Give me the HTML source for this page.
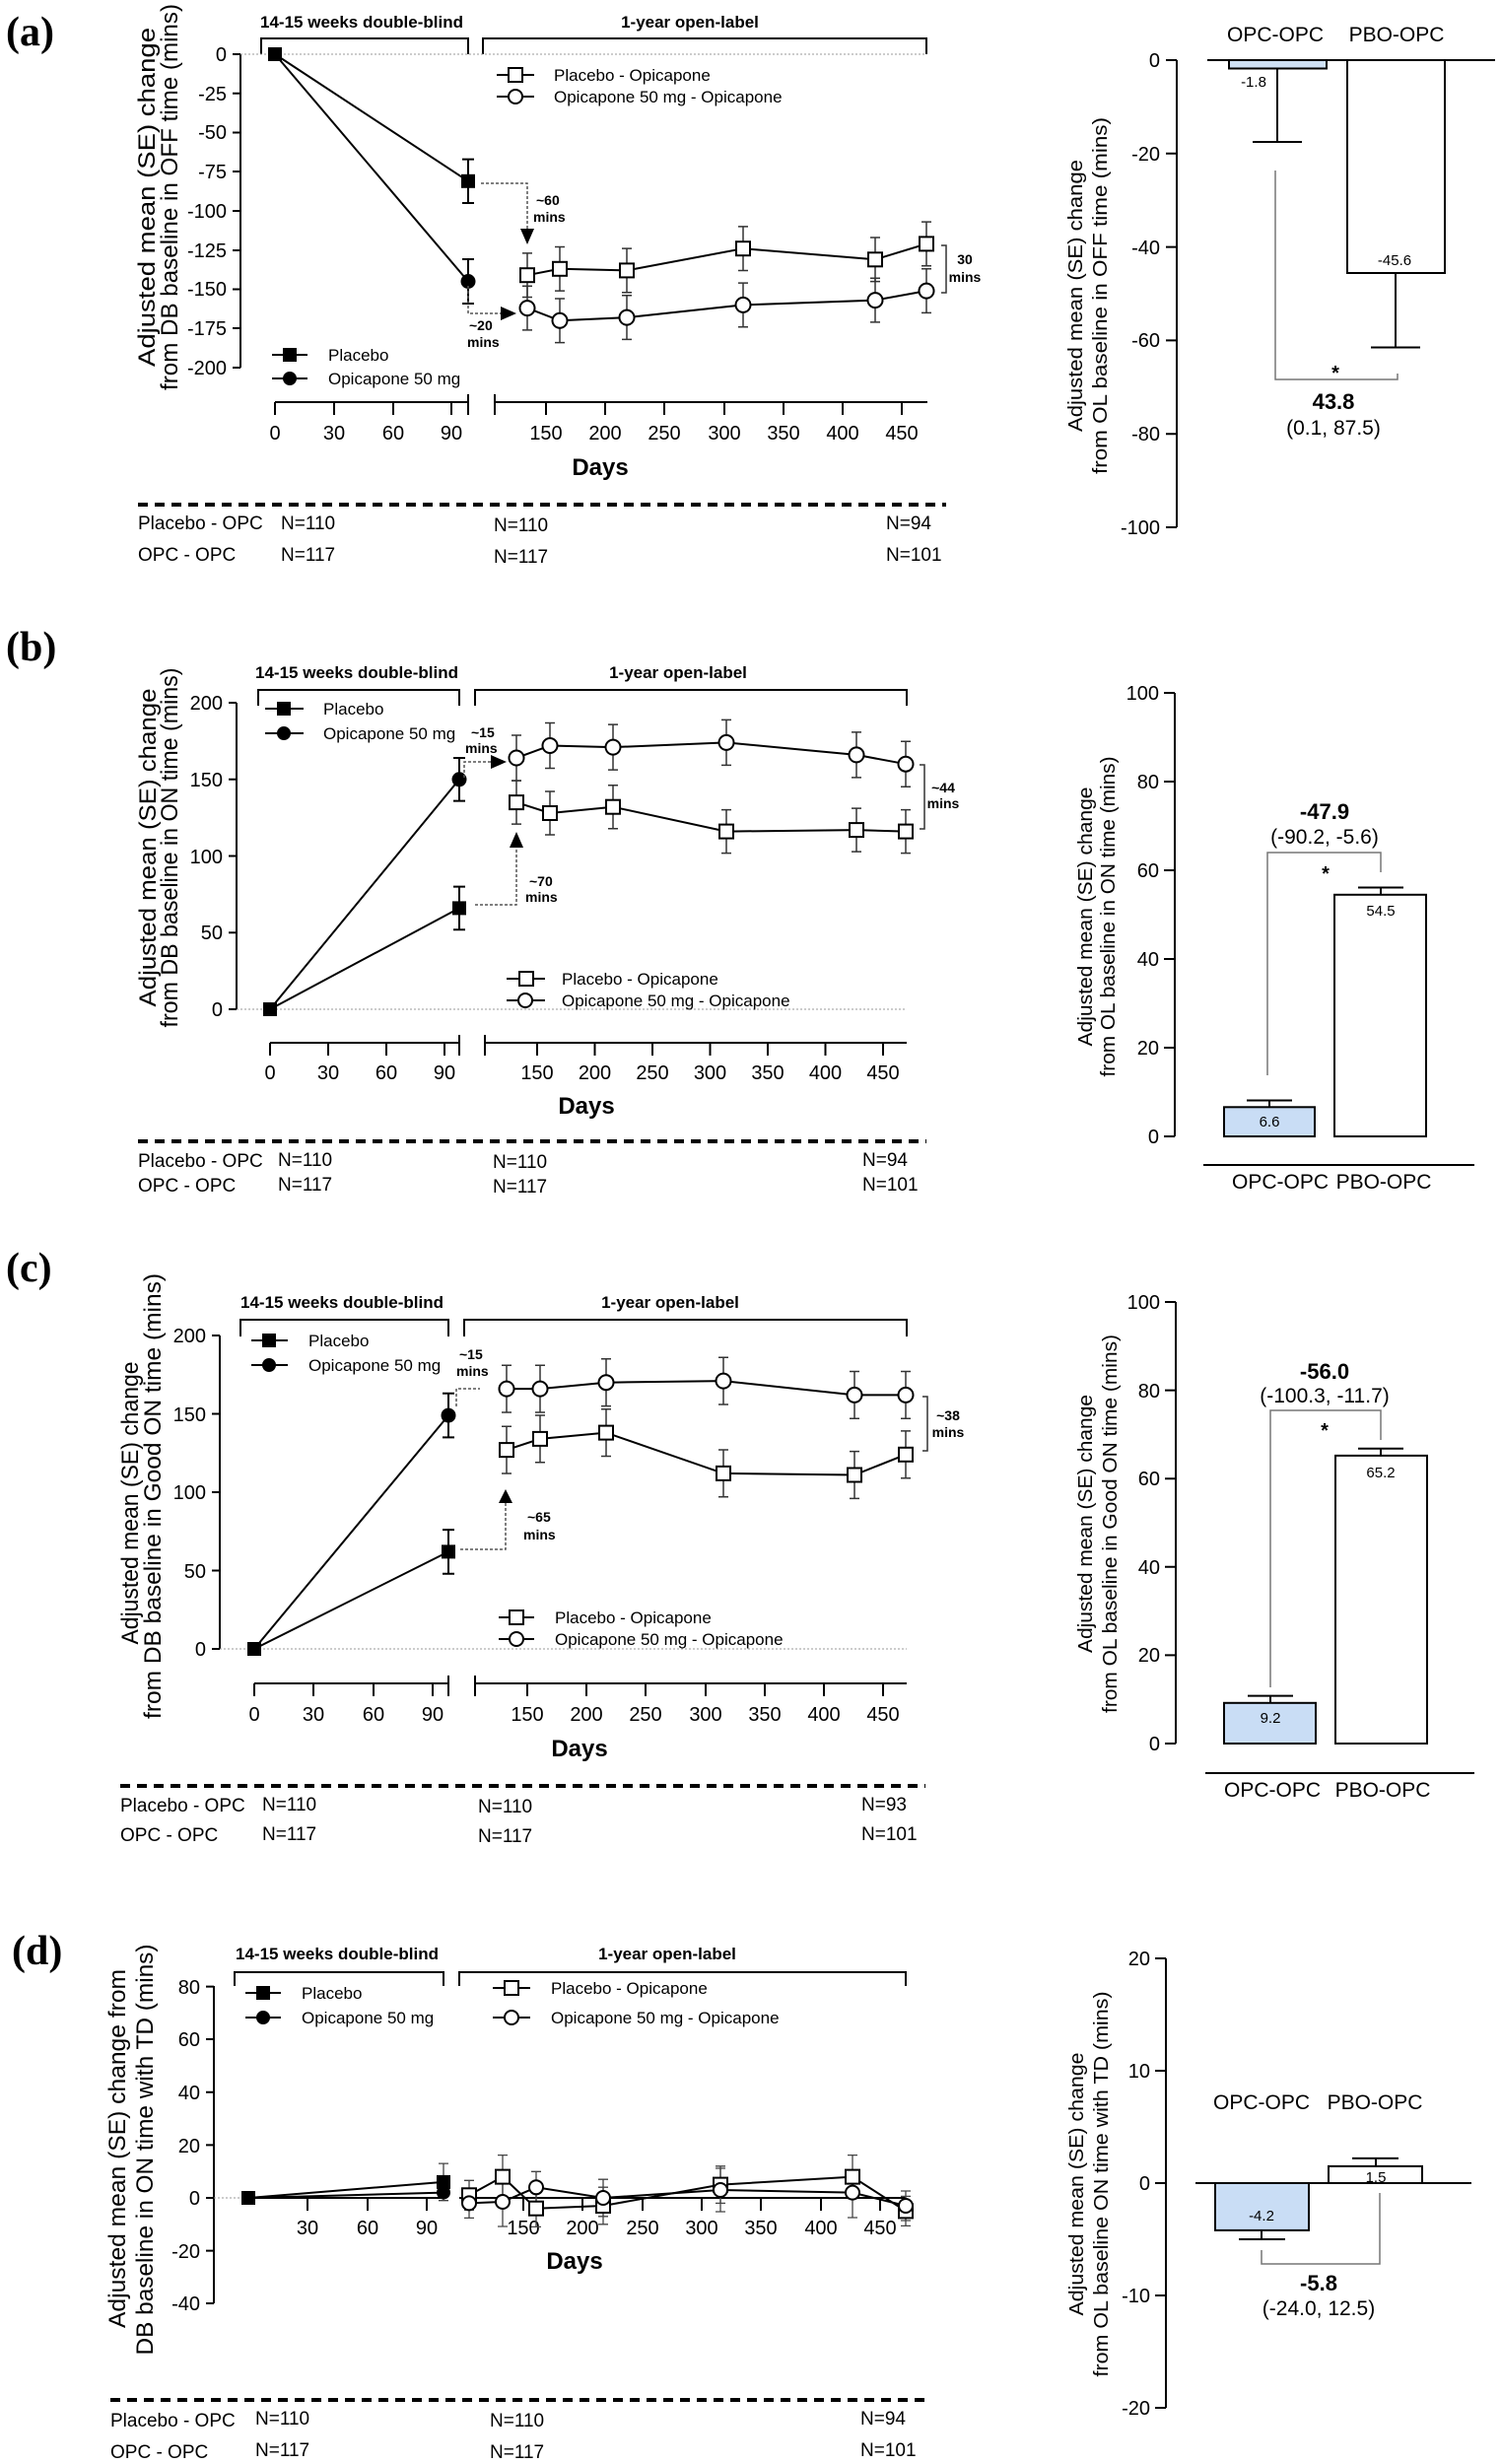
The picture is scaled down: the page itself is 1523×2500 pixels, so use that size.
<!DOCTYPE html>
<html><head><meta charset="utf-8"><style>
html,body{margin:0;padding:0;background:#fff}
svg{display:block}
.n{font-family:"Liberation Sans Narrow","Liberation Sans",sans-serif}
.s{font-family:"Liberation Sans",Arial,sans-serif}
.hb{font-family:"Liberation Sans Narrow","Liberation Sans",sans-serif;font-weight:bold}
.pl{font-family:"Liberation Serif",serif;font-weight:bold;font-size:42px}
</style></head><body>
<svg width="1523" height="2500" viewBox="0 0 1523 2500" xmlns="http://www.w3.org/2000/svg">
<rect width="1523" height="2500" fill="#fff"/>

<!-- ================= PANEL A ================= -->
<text x="6" y="46" class="pl">(a)</text>
<text class="s" font-size="24" transform="translate(157,200) rotate(-90)" text-anchor="middle" textLength="344" lengthAdjust="spacingAndGlyphs">Adjusted mean (SE) change</text>
<text class="s" font-size="24" transform="translate(180,200) rotate(-90)" text-anchor="middle" textLength="392" lengthAdjust="spacingAndGlyphs">from DB baseline in OFF time (mins)</text>
<g stroke="#000" stroke-width="2" fill="none">
<path d="M244,55V373M236,55H244M236,94.8H244M236,134.5H244M236,174H244M236,214H244M236,254H244M236,293.5H244M236,333H244M236,373H244"/>
<path d="M279,408H475M279,408V421M339,408V421M399,408V421M458,408V421M475,400V421"/>
<path d="M502,400V421M502,408H941M554,408V421M614,408V421M674,408V421M735,408V421M795,408V421M855,408V421M915,408V421"/>
<path d="M265,55V39H475V55M490,55V39H940V55"/>
</g>
<line x1="244" y1="55" x2="940" y2="55" stroke="#999" stroke-width="1" stroke-dasharray="2 2"/>
<g class="n" font-size="20" text-anchor="end">
<text x="230" y="62">0</text><text x="230" y="102">-25</text><text x="230" y="141">-50</text><text x="230" y="181">-75</text><text x="230" y="221">-100</text><text x="230" y="261">-125</text><text x="230" y="300">-150</text><text x="230" y="340">-175</text><text x="230" y="380">-200</text>
</g>
<g class="n" font-size="20" text-anchor="middle">
<text x="279" y="446">0</text><text x="339" y="446">30</text><text x="399" y="446">60</text><text x="458" y="446">90</text>
<text x="554" y="446">150</text><text x="614" y="446">200</text><text x="674" y="446">250</text><text x="735" y="446">300</text><text x="795" y="446">350</text><text x="855" y="446">400</text><text x="915" y="446">450</text>
</g>
<text x="609" y="482" class="hb" font-size="24" text-anchor="middle">Days</text>
<text x="367" y="28" class="hb" font-size="17" text-anchor="middle">14-15 weeks double-blind</text>
<text x="700" y="28" class="hb" font-size="17" text-anchor="middle">1-year open-label</text>
<!-- data -->
<g stroke="#000" stroke-width="2" fill="none">
<path d="M279,55L475,183.8M279,55L475,285.5"/>
<path d="M475,161.6V206M469,161.6H481M469,206H481M475,263V308M469,263H481M469,308H481"/>
<path d="M535,279.2L568,272.8L636,274.4L754,252.2L888,263.3L940,247.4"/>
<path d="M535,312.6L568,325.3L636,322.1L754,309.4L888,304.6L940,295.1"/>
</g>
<g stroke="#333" stroke-width="1.5" fill="none">
<path d="M535,256.9V301.5M530,256.9H540M530,301.5H540M568,250.5V295.1M563,250.5H573M563,295.1H573M636,252.1V296.7M631,252.1H641M631,296.7H641M754,229.9V274.5M749,229.9H759M749,274.5H759M888,241V285.6M883,241H893M883,285.6H893M940,225.1V269.7M935,225.1H945M935,269.7H945"/>
<path d="M535,290.3V334.9M530,290.3H540M530,334.9H540M568,303V347.6M563,303H573M563,347.6H573M636,299.8V344.4M631,299.8H641M631,344.4H641M754,287.1V331.7M749,287.1H759M749,331.7H759M888,282.3V326.9M883,282.3H893M883,326.9H893M940,272.8V317.4M935,272.8H945M935,317.4H945"/>
</g>
<g stroke="#000" stroke-width="2">
<rect x="273" y="49" width="12" height="12" fill="#000"/>
<rect x="469" y="177.8" width="12" height="12" fill="#000"/>
<circle cx="475" cy="285.5" r="6.5" fill="#000"/>
<g fill="#fff">
<rect x="528" y="272.2" width="14" height="14"/><rect x="561" y="265.8" width="14" height="14"/><rect x="629" y="267.4" width="14" height="14"/><rect x="747" y="245.2" width="14" height="14"/><rect x="881" y="256.3" width="14" height="14"/><rect x="933" y="240.4" width="14" height="14"/>
<circle cx="535" cy="312.6" r="7.5"/><circle cx="568" cy="325.3" r="7.5"/><circle cx="636" cy="322.1" r="7.5"/><circle cx="754" cy="309.4" r="7.5"/><circle cx="888" cy="304.6" r="7.5"/><circle cx="940" cy="295.1" r="7.5"/>
</g></g>
<!-- legends -->
<g stroke="#000" stroke-width="2">
<line x1="276" y1="360" x2="312" y2="360"/><rect x="288" y="354" width="12" height="12" fill="#000"/>
<line x1="276" y1="384" x2="312" y2="384"/><circle cx="294" cy="384" r="6" fill="#000"/>
<line x1="504" y1="76" x2="542" y2="76"/><rect x="516" y="69" width="14" height="14" fill="#fff"/>
<line x1="504" y1="98" x2="542" y2="98"/><circle cx="523" cy="98" r="7" fill="#fff"/>
</g>
<g class="n" font-size="17">
<text x="333" y="366">Placebo</text><text x="333" y="390">Opicapone 50 mg</text>
<text x="562" y="82">Placebo - Opicapone</text><text x="562" y="104">Opicapone 50 mg - Opicapone</text>
</g>
<!-- annotations -->
<path d="M488,186H535V232" stroke="#555" stroke-width="1.5" fill="none" stroke-dasharray="3 2"/>
<polygon points="528,232 542,232 535,248" fill="#000"/>
<path d="M475,290V318H508" stroke="#555" stroke-width="1.5" fill="none" stroke-dasharray="3 2"/>
<polygon points="508,311 508,325 524,318" fill="#000"/>
<path d="M955,249H960V297H955" stroke="#333" stroke-width="1.5" fill="none"/>
<g class="hb" font-size="14">
<text x="544" y="208">~60</text><text x="541" y="225">mins</text>
<text x="476" y="335">~20</text><text x="474" y="352">mins</text>
<text x="979" y="268" text-anchor="middle">30</text><text x="979" y="286" text-anchor="middle">mins</text>
</g>
<line x1="140" y1="512" x2="960" y2="512" stroke="#000" stroke-width="4" stroke-dasharray="10 7"/>
<g class="n" font-size="19">
<text x="140" y="537">Placebo - OPC</text><text x="140" y="569">OPC - OPC</text>
<text x="285" y="537">N=110</text><text x="285" y="569">N=117</text>
<text x="501" y="539">N=110</text><text x="501" y="571">N=117</text>
<text x="899" y="537">N=94</text><text x="899" y="569">N=101</text>
</g>
<!-- right a -->
<text class="s" font-size="20" transform="translate(1098,300) rotate(-90)" text-anchor="middle" textLength="276" lengthAdjust="spacingAndGlyphs">Adjusted mean (SE) change</text>
<text class="s" font-size="20" transform="translate(1123,300) rotate(-90)" text-anchor="middle" textLength="362" lengthAdjust="spacingAndGlyphs">from OL baseline in OFF time (mins)</text>
<g stroke="#000" stroke-width="2" fill="none">
<path d="M1194,61V535M1183,61H1194M1183,155.8H1194M1183,250.6H1194M1183,345.4H1194M1183,440.2H1194M1183,535H1194"/>
<line x1="1225" y1="61" x2="1517" y2="61"/>
<rect x="1247" y="61" width="99" height="8.5" fill="#cfe1f5"/>
<rect x="1367" y="61" width="99" height="216"/>
<path d="M1296,69.5V144M1271,144H1321M1416,277V352.5M1391,352.5H1441"/>
</g>
<path d="M1294,173V385H1418V379" stroke="#777" stroke-width="1.5" fill="none"/>
<g class="s" font-size="20" text-anchor="end">
<text x="1177" y="68">0</text><text x="1177" y="163">-20</text><text x="1177" y="258">-40</text><text x="1177" y="352">-60</text><text x="1177" y="447">-80</text><text x="1177" y="542">-100</text>
</g>
<g class="s" text-anchor="middle">
<text x="1294" y="42" font-size="21">OPC-OPC</text><text x="1417" y="42" font-size="21">PBO-OPC</text>
<text x="1272" y="88" font-size="15">-1.8</text><text x="1415" y="269" font-size="15">-45.6</text>
<text x="1355" y="385" font-size="20" font-weight="bold">*</text>
<text x="1353" y="415" font-size="22" font-weight="bold">43.8</text>
<text x="1353" y="441" font-size="21">(0.1, 87.5)</text>
</g>

<!-- ================= PANEL B ================= -->
<text x="6" y="670" class="pl">(b)</text>
<text class="s" font-size="24" transform="translate(158,860) rotate(-90)" text-anchor="middle" textLength="323" lengthAdjust="spacingAndGlyphs">Adjusted mean (SE) change</text>
<text class="s" font-size="24" transform="translate(180,860) rotate(-90)" text-anchor="middle" textLength="365" lengthAdjust="spacingAndGlyphs">from DB baseline in ON time (mins)</text>
<g stroke="#000" stroke-width="2" fill="none">
<path d="M240,713V1024M232,713H240M232,790.8H240M232,868.5H240M232,946.3H240M232,1024H240"/>
<path d="M274,1058H466M274,1058V1071M333,1058V1071M392,1058V1071M451,1058V1071M466,1050V1071"/>
<path d="M492,1050V1071M492,1058H920M545,1058V1071M603.5,1058V1071M662,1058V1071M720.5,1058V1071M779,1058V1071M837.5,1058V1071M896,1058V1071"/>
<path d="M262,716V700H466V716M482,716V700H920V716"/>
</g>
<line x1="240" y1="1024" x2="920" y2="1024" stroke="#999" stroke-width="1" stroke-dasharray="2 2"/>
<g class="n" font-size="20" text-anchor="end">
<text x="226" y="720">200</text><text x="226" y="798">150</text><text x="226" y="876">100</text><text x="226" y="953">50</text><text x="226" y="1031">0</text>
</g>
<g class="n" font-size="20" text-anchor="middle">
<text x="274" y="1095">0</text><text x="333" y="1095">30</text><text x="392" y="1095">60</text><text x="451" y="1095">90</text>
<text x="545" y="1095">150</text><text x="603.5" y="1095">200</text><text x="662" y="1095">250</text><text x="720.5" y="1095">300</text><text x="779" y="1095">350</text><text x="837.5" y="1095">400</text><text x="896" y="1095">450</text>
</g>
<text x="595" y="1130" class="hb" font-size="24" text-anchor="middle">Days</text>
<text x="362" y="688" class="hb" font-size="17" text-anchor="middle">14-15 weeks double-blind</text>
<text x="688" y="688" class="hb" font-size="17" text-anchor="middle">1-year open-label</text>
<g stroke="#000" stroke-width="2" fill="none">
<path d="M274,1024L466,921.4M274,1024L466,790.8"/>
<path d="M466,899.6V943.2M460,899.6H472M460,943.2H472M466,769V812.6M460,769H472M460,812.6H472"/>
<path d="M524,814.1L558,825L622,818.7L737,843.6L869,842.1L919,843.6"/>
<path d="M524,769L558,756.5L622,758.1L737,753.4L869,765.9L919,775.2"/>
</g>
<g stroke="#333" stroke-width="1.5" fill="none">
<path d="M524,792.1V836.1M519,792.1H529M519,836.1H529M558,803V847M553,803H563M553,847H563M622,796.7V840.7M617,796.7H627M617,840.7H627M737,821.6V865.6M732,821.6H742M732,865.6H742M869,820.1V864.1M864,820.1H874M864,864.1H874M919,821.6V865.6M914,821.6H924M914,865.6H924"/>
<path d="M524,746V792M519,746H529M519,792H529M558,733.5V779.5M553,733.5H563M553,779.5H563M622,735.1V781.1M617,735.1H627M617,781.1H627M737,730.4V776.4M732,730.4H742M732,776.4H742M869,742.9V788.9M864,742.9H874M864,788.9H874M919,752.2V798.2M914,752.2H924M914,798.2H924"/>
</g>
<g stroke="#000" stroke-width="2">
<rect x="268" y="1018" width="12" height="12" fill="#000"/>
<rect x="460" y="915.4" width="12" height="12" fill="#000"/>
<circle cx="466" cy="790.8" r="6.5" fill="#000"/>
<g fill="#fff">
<rect x="517" y="807.1" width="14" height="14"/><rect x="551" y="818" width="14" height="14"/><rect x="615" y="811.7" width="14" height="14"/><rect x="730" y="836.6" width="14" height="14"/><rect x="862" y="835.1" width="14" height="14"/><rect x="912" y="836.6" width="14" height="14"/>
<circle cx="524" cy="769" r="7.5"/><circle cx="558" cy="756.5" r="7.5"/><circle cx="622" cy="758.1" r="7.5"/><circle cx="737" cy="753.4" r="7.5"/><circle cx="869" cy="765.9" r="7.5"/><circle cx="919" cy="775.2" r="7.5"/>
</g></g>
<g stroke="#000" stroke-width="2">
<line x1="269" y1="719" x2="308" y2="719"/><rect x="282" y="713" width="12" height="12" fill="#000"/>
<line x1="269" y1="744" x2="308" y2="744"/><circle cx="288" cy="744" r="6" fill="#000"/>
<line x1="514" y1="993" x2="553" y2="993"/><rect x="527" y="986" width="14" height="14" fill="#fff"/>
<line x1="514" y1="1015" x2="553" y2="1015"/><circle cx="533" cy="1015" r="7" fill="#fff"/>
</g>
<g class="n" font-size="17">
<text x="328" y="725">Placebo</text><text x="328" y="750">Opicapone 50 mg</text>
<text x="570" y="999">Placebo - Opicapone</text><text x="570" y="1021">Opicapone 50 mg - Opicapone</text>
</g>
<path d="M471,789V773H498" stroke="#555" stroke-width="1.5" fill="none" stroke-dasharray="3 2"/>
<polygon points="498,766 498,780 514,773" fill="#000"/>
<path d="M482,918H524V860" stroke="#555" stroke-width="1.5" fill="none" stroke-dasharray="3 2"/>
<polygon points="517,860 531,860 524,844" fill="#000"/>
<path d="M933,776H938V841H933" stroke="#333" stroke-width="1.5" fill="none"/>
<g class="hb" font-size="14">
<text x="478" y="748">~15</text><text x="472" y="764">mins</text>
<text x="537" y="899">~70</text><text x="533" y="915">mins</text>
<text x="957" y="804" text-anchor="middle">~44</text><text x="957" y="820" text-anchor="middle">mins</text>
</g>
<line x1="140" y1="1158" x2="940" y2="1158" stroke="#000" stroke-width="4" stroke-dasharray="10 7"/>
<g class="n" font-size="19">
<text x="140" y="1184">Placebo - OPC</text><text x="140" y="1209">OPC - OPC</text>
<text x="282" y="1183">N=110</text><text x="282" y="1208">N=117</text>
<text x="500" y="1185">N=110</text><text x="500" y="1210">N=117</text>
<text x="875" y="1183">N=94</text><text x="875" y="1208">N=101</text>
</g>
<!-- right b -->
<text class="s" font-size="20" transform="translate(1108,930) rotate(-90)" text-anchor="middle" textLength="263" lengthAdjust="spacingAndGlyphs">Adjusted mean (SE) change</text>
<text class="s" font-size="20" transform="translate(1131,930) rotate(-90)" text-anchor="middle" textLength="325" lengthAdjust="spacingAndGlyphs">from OL baseline in ON time (mins)</text>
<g stroke="#000" stroke-width="2" fill="none">
<path d="M1192,703V1153M1181,703H1192M1181,793H1192M1181,883H1192M1181,973H1192M1181,1063H1192M1181,1153H1192"/>
<rect x="1242" y="1123.3" width="92" height="29.7" fill="#c9ddf5"/>
<rect x="1354" y="907.8" width="93" height="245.2"/>
<path d="M1288,1123.3V1116.5M1265,1116.5H1311M1401,907.8V900.5M1378,900.5H1424"/>
<line x1="1221" y1="1182" x2="1496" y2="1182"/>
</g>
<path d="M1286,1091V865H1401V885" stroke="#777" stroke-width="1.5" fill="none"/>
<g class="s" font-size="20" text-anchor="end">
<text x="1176" y="710">100</text><text x="1176" y="800">80</text><text x="1176" y="890">60</text><text x="1176" y="980">40</text><text x="1176" y="1070">20</text><text x="1176" y="1160">0</text>
</g>
<g class="s" text-anchor="middle">
<text x="1299" y="1206" font-size="21">OPC-OPC</text><text x="1404" y="1206" font-size="21">PBO-OPC</text>
<text x="1288" y="1143" font-size="15">6.6</text><text x="1401" y="929" font-size="15">54.5</text>
<text x="1345" y="893" font-size="20" font-weight="bold">*</text>
<text x="1344" y="831" font-size="22" font-weight="bold">-47.9</text>
<text x="1344" y="856" font-size="21">(-90.2, -5.6)</text>
</g>

<!-- ================= PANEL C ================= -->
<text x="6" y="1300" class="pl">(c)</text>
<text class="s" font-size="24" transform="translate(140,1525) rotate(-90)" text-anchor="middle" textLength="287" lengthAdjust="spacingAndGlyphs">Adjusted mean (SE) change</text>
<text class="s" font-size="24" transform="translate(163,1518) rotate(-90)" text-anchor="middle" textLength="452" lengthAdjust="spacingAndGlyphs">from DB baseline in Good ON time (mins)</text>
<g stroke="#000" stroke-width="2" fill="none">
<path d="M223,1355V1673M215,1355H223M215,1434.5H223M215,1514H223M215,1593.5H223M215,1673H223"/>
<path d="M258,1708H455M258,1708V1721M318,1708V1721M379,1708V1721M439,1708V1721M455,1700V1721"/>
<path d="M482,1700V1721M482,1708H920M535,1708V1721M595,1708V1721M655,1708V1721M716,1708V1721M776,1708V1721M836,1708V1721M896,1708V1721"/>
<path d="M244,1356V1339H455V1356M471,1356V1339H920V1356"/>
</g>
<line x1="223" y1="1673" x2="920" y2="1673" stroke="#999" stroke-width="1" stroke-dasharray="2 2"/>
<g class="n" font-size="20" text-anchor="end">
<text x="209" y="1362">200</text><text x="209" y="1442">150</text><text x="209" y="1521">100</text><text x="209" y="1601">50</text><text x="209" y="1680">0</text>
</g>
<g class="n" font-size="20" text-anchor="middle">
<text x="258" y="1746">0</text><text x="318" y="1746">30</text><text x="379" y="1746">60</text><text x="439" y="1746">90</text>
<text x="535" y="1746">150</text><text x="595" y="1746">200</text><text x="655" y="1746">250</text><text x="716" y="1746">300</text><text x="776" y="1746">350</text><text x="836" y="1746">400</text><text x="896" y="1746">450</text>
</g>
<text x="588" y="1782" class="hb" font-size="24" text-anchor="middle">Days</text>
<text x="347" y="1327" class="hb" font-size="17" text-anchor="middle">14-15 weeks double-blind</text>
<text x="680" y="1327" class="hb" font-size="17" text-anchor="middle">1-year open-label</text>
<g stroke="#000" stroke-width="2" fill="none">
<path d="M258,1673L455,1574.4M258,1673L455,1436.1"/>
<path d="M455,1552.1V1596.7M449,1552.1H461M449,1596.7H461M455,1413.8V1458.4M449,1413.8H461M449,1458.4H461"/>
<path d="M514,1471.1L548,1459.9L615,1453.6L734,1494.9L867,1496.5L919,1475.8"/>
<path d="M514,1409.1L548,1409.1L615,1402.7L734,1401.1L867,1415.4L919,1415.4"/>
</g>
<g stroke="#333" stroke-width="1.5" fill="none">
<path d="M514,1447.2V1495M509,1447.2H519M509,1495H519M548,1436V1483.8M543,1436H553M543,1483.8H553M615,1429.7V1477.5M610,1429.7H620M610,1477.5H620M734,1471V1518.8M729,1471H739M729,1518.8H739M867,1472.6V1520.4M862,1472.6H872M862,1520.4H872M919,1451.9V1499.7M914,1451.9H924M914,1499.7H924"/>
<path d="M514,1385.2V1433M509,1385.2H519M509,1433H519M548,1385.2V1433M543,1385.2H553M543,1433H553M615,1378.8V1426.6M610,1378.8H620M610,1426.6H620M734,1377.2V1425M729,1377.2H739M729,1425H739M867,1391.5V1439.3M862,1391.5H872M862,1439.3H872M919,1391.5V1439.3M914,1391.5H924M914,1439.3H924"/>
</g>
<g stroke="#000" stroke-width="2">
<rect x="252" y="1667" width="12" height="12" fill="#000"/>
<rect x="449" y="1568.4" width="12" height="12" fill="#000"/>
<circle cx="455" cy="1436.1" r="6.5" fill="#000"/>
<g fill="#fff">
<rect x="507" y="1464.1" width="14" height="14"/><rect x="541" y="1452.9" width="14" height="14"/><rect x="608" y="1446.6" width="14" height="14"/><rect x="727" y="1487.9" width="14" height="14"/><rect x="860" y="1489.5" width="14" height="14"/><rect x="912" y="1468.8" width="14" height="14"/>
<circle cx="514" cy="1409.1" r="7.5"/><circle cx="548" cy="1409.1" r="7.5"/><circle cx="615" cy="1402.7" r="7.5"/><circle cx="734" cy="1401.1" r="7.5"/><circle cx="867" cy="1415.4" r="7.5"/><circle cx="919" cy="1415.4" r="7.5"/>
</g></g>
<g stroke="#000" stroke-width="2">
<line x1="255" y1="1360" x2="292" y2="1360"/><rect x="267" y="1354" width="12" height="12" fill="#000"/>
<line x1="255" y1="1385" x2="292" y2="1385"/><circle cx="273" cy="1385" r="6" fill="#000"/>
<line x1="506" y1="1641" x2="542" y2="1641"/><rect x="517" y="1634" width="14" height="14" fill="#fff"/>
<line x1="506" y1="1663" x2="542" y2="1663"/><circle cx="524" cy="1663" r="7" fill="#fff"/>
</g>
<g class="n" font-size="17">
<text x="313" y="1366">Placebo</text><text x="313" y="1391">Opicapone 50 mg</text>
<text x="563" y="1647">Placebo - Opicapone</text><text x="563" y="1669">Opicapone 50 mg - Opicapone</text>
</g>
<path d="M463,1427V1409H487" stroke="#555" stroke-width="1.5" fill="none" stroke-dasharray="3 2"/>
<path d="M467,1572H513V1525" stroke="#555" stroke-width="1.5" fill="none" stroke-dasharray="3 2"/>
<polygon points="506,1525 520,1525 513,1511" fill="#000"/>
<path d="M936,1417H941V1472H936" stroke="#333" stroke-width="1.5" fill="none"/>
<g class="hb" font-size="14">
<text x="466" y="1379">~15</text><text x="463" y="1396">mins</text>
<text x="535" y="1544">~65</text><text x="531" y="1562">mins</text>
<text x="962" y="1441" text-anchor="middle">~38</text><text x="962" y="1458" text-anchor="middle">mins</text>
</g>
<line x1="122" y1="1812" x2="939" y2="1812" stroke="#000" stroke-width="4" stroke-dasharray="10 7"/>
<g class="n" font-size="19">
<text x="122" y="1838">Placebo - OPC</text><text x="122" y="1868">OPC - OPC</text>
<text x="266" y="1837">N=110</text><text x="266" y="1867">N=117</text>
<text x="485" y="1839">N=110</text><text x="485" y="1869">N=117</text>
<text x="874" y="1837">N=93</text><text x="874" y="1867">N=101</text>
</g>
<!-- right c -->
<text class="s" font-size="20" transform="translate(1108,1546) rotate(-90)" text-anchor="middle" textLength="262" lengthAdjust="spacingAndGlyphs">Adjusted mean (SE) change</text>
<text class="s" font-size="20" transform="translate(1133,1546) rotate(-90)" text-anchor="middle" textLength="384" lengthAdjust="spacingAndGlyphs">from OL baseline in Good ON time (mins)</text>
<g stroke="#000" stroke-width="2" fill="none">
<path d="M1193,1321V1769M1182,1321H1193M1182,1410.6H1193M1182,1500.2H1193M1182,1589.8H1193M1182,1679.4H1193M1182,1769H1193"/>
<rect x="1242" y="1727.8" width="93" height="41.2" fill="#c9ddf5"/>
<rect x="1355" y="1476.9" width="93" height="292.1"/>
<path d="M1289,1727.8V1720.6M1266,1720.6H1312M1401,1476.9V1469.7M1378,1469.7H1424"/>
<line x1="1223" y1="1799" x2="1496" y2="1799"/>
</g>
<path d="M1289,1712V1431H1401V1461" stroke="#777" stroke-width="1.5" fill="none"/>
<g class="s" font-size="20" text-anchor="end">
<text x="1177" y="1328">100</text><text x="1177" y="1418">80</text><text x="1177" y="1507">60</text><text x="1177" y="1597">40</text><text x="1177" y="1686">20</text><text x="1177" y="1776">0</text>
</g>
<g class="s" text-anchor="middle">
<text x="1291" y="1823" font-size="21">OPC-OPC</text><text x="1403" y="1823" font-size="21">PBO-OPC</text>
<text x="1289" y="1748" font-size="15">9.2</text><text x="1401" y="1499" font-size="15">65.2</text>
<text x="1344" y="1458" font-size="20" font-weight="bold">*</text>
<text x="1344" y="1399" font-size="22" font-weight="bold">-56.0</text>
<text x="1344" y="1423" font-size="21">(-100.3, -11.7)</text>
</g>

<!-- ================= PANEL D ================= -->
<text x="12" y="1993" class="pl">(d)</text>
<text class="s" font-size="24" transform="translate(127,2180) rotate(-90)" text-anchor="middle" textLength="364" lengthAdjust="spacingAndGlyphs">Adjusted mean (SE) change from</text>
<text class="s" font-size="24" transform="translate(155,2181) rotate(-90)" text-anchor="middle" textLength="417" lengthAdjust="spacingAndGlyphs">DB baseline in ON time with TD (mins)</text>
<g stroke="#000" stroke-width="2" fill="none">
<path d="M217,2015V2337M209,2015.6H217M209,2069H217M209,2122.8H217M209,2176.4H217M209,2230H217M209,2283.6H217M209,2337H217"/>
<path d="M252,2230H450M312,2230V2243M373,2230V2243M433,2230V2243"/>
<path d="M466,2230H919M531,2230V2243M591,2230V2243M652,2230V2243M712,2230V2243M772,2230V2243M833,2230V2243M893,2230V2243"/>
<path d="M238,2015V2001H450V2015M466,2015V2001H919V2015"/>
</g>
<line x1="217" y1="2230" x2="252" y2="2230" stroke="#999" stroke-width="1" stroke-dasharray="2 2"/>
<g class="n" font-size="20" text-anchor="end">
<text x="203" y="2023">80</text><text x="203" y="2076">60</text><text x="203" y="2130">40</text><text x="203" y="2184">20</text><text x="203" y="2237">0</text><text x="203" y="2291">-20</text><text x="203" y="2344">-40</text>
</g>
<g class="n" font-size="20" text-anchor="middle">
<text x="312" y="2267">30</text><text x="373" y="2267">60</text><text x="433" y="2267">90</text>
<text x="531" y="2267">150</text><text x="591" y="2267">200</text><text x="652" y="2267">250</text><text x="712" y="2267">300</text><text x="772" y="2267">350</text><text x="833" y="2267">400</text><text x="893" y="2267">450</text>
</g>
<text x="583" y="2302" class="hb" font-size="24" text-anchor="middle">Days</text>
<text x="342" y="1988" class="hb" font-size="17" text-anchor="middle">14-15 weeks double-blind</text>
<text x="677" y="1988" class="hb" font-size="17" text-anchor="middle">1-year open-label</text>
<g stroke="#000" stroke-width="2" fill="none">
<path d="M252,2230L450,2213.9M252,2230L450,2224.6"/>
<path d="M476,2227.3L510,2208.6L544,2240.7L612,2238L731,2216.6L865,2208.6L919,2243.4"/>
<path d="M476,2235.4L510,2234L544,2219.3L612,2230L731,2222L865,2224.6L919,2238"/>
</g>
<g stroke="#444" stroke-width="1.3" fill="none">
<path d="M450,2195.1V2232.7M445,2195.1H455M445,2232.7H455"/>
<path d="M476,2212.3V2242.3M471,2212.3H481M471,2242.3H481M510,2186.6V2230.6M505,2186.6H515M505,2230.6H515M544,2222V2259.4M539,2222H549M539,2259.4H549M612,2219.2V2256.8M607,2219.2H617M607,2256.8H617M731,2197.8V2235.4M726,2197.8H736M726,2235.4H736M865,2186.6V2230.6M860,2186.6H870M860,2230.6H870M919,2228.4V2258.4M914,2228.4H924M914,2258.4H924"/>
<path d="M476,2220.4V2250.4M471,2220.4H481M471,2250.4H481M510,2212V2259M505,2212H515M505,2259H515M544,2203.3V2235.3M539,2203.3H549M539,2235.3H549M612,2211.2V2248.8M607,2211.2H617M607,2248.8H617M731,2200V2244M726,2200H736M726,2244H736M865,2206V2250M860,2206H870M860,2250H870M919,2223V2253M914,2223H924M914,2253H924"/>
</g>
<g stroke="#000" stroke-width="2">
<rect x="246" y="2224" width="12" height="12" fill="#000"/>
<rect x="444" y="2207.9" width="12" height="12" fill="#000"/>
<circle cx="450" cy="2224.6" r="6" fill="#000"/>
<g fill="#fff">
<rect x="469" y="2220.3" width="14" height="14"/><rect x="503" y="2201.6" width="14" height="14"/><rect x="537" y="2233.7" width="14" height="14"/><rect x="605" y="2231" width="14" height="14"/><rect x="724" y="2209.6" width="14" height="14"/><rect x="858" y="2201.6" width="14" height="14"/><rect x="912" y="2236.4" width="14" height="14"/>
<circle cx="476" cy="2235.4" r="7"/><circle cx="510" cy="2234" r="7"/><circle cx="544" cy="2219.3" r="7"/><circle cx="612" cy="2230" r="7"/><circle cx="731" cy="2222" r="7"/><circle cx="865" cy="2224.6" r="7"/><circle cx="919" cy="2238" r="7"/>
</g></g>
<g stroke="#000" stroke-width="2">
<line x1="249" y1="2022" x2="285" y2="2022"/><rect x="261" y="2016" width="12" height="12" fill="#000"/>
<line x1="249" y1="2047" x2="285" y2="2047"/><circle cx="267" cy="2047" r="6" fill="#000"/>
<line x1="500" y1="2017" x2="538" y2="2017"/><rect x="512" y="2010" width="14" height="14" fill="#fff"/>
<line x1="500" y1="2047" x2="538" y2="2047"/><circle cx="519" cy="2047" r="7" fill="#fff"/>
</g>
<g class="n" font-size="17">
<text x="306" y="2028">Placebo</text><text x="306" y="2053">Opicapone 50 mg</text>
<text x="559" y="2023">Placebo - Opicapone</text><text x="559" y="2053">Opicapone 50 mg - Opicapone</text>
</g>
<line x1="112" y1="2435" x2="940" y2="2435" stroke="#000" stroke-width="4" stroke-dasharray="10 7"/>
<g class="n" font-size="19">
<text x="112" y="2462">Placebo - OPC</text><text x="112" y="2494">OPC - OPC</text>
<text x="259" y="2460">N=110</text><text x="259" y="2492">N=117</text>
<text x="497" y="2462">N=110</text><text x="497" y="2494">N=117</text>
<text x="873" y="2460">N=94</text><text x="873" y="2492">N=101</text>
</g>
<!-- right d -->
<text class="s" font-size="20" transform="translate(1099,2216) rotate(-90)" text-anchor="middle" textLength="267" lengthAdjust="spacingAndGlyphs">Adjusted mean (SE) change</text>
<text class="s" font-size="20" transform="translate(1124,2216) rotate(-90)" text-anchor="middle" textLength="391" lengthAdjust="spacingAndGlyphs">from OL baseline ON time with TD (mins)</text>
<g stroke="#000" stroke-width="2" fill="none">
<path d="M1183,1987V2443M1172,1987H1183M1172,2101H1183M1172,2215H1183M1172,2329H1183M1172,2443H1183"/>
<rect x="1233" y="2215" width="95" height="47.9" fill="#c9ddf5"/>
<rect x="1348" y="2197.9" width="95" height="17.1"/>
<line x1="1213" y1="2215" x2="1493" y2="2215"/>
<path d="M1280,2262.9V2272M1257,2272H1304M1396,2197.9V2189.9M1372,2189.9H1419"/>
</g>
<path d="M1280,2283V2297H1400V2225" stroke="#777" stroke-width="1.5" fill="none"/>
<g class="s" font-size="20" text-anchor="end">
<text x="1167" y="1994">20</text><text x="1167" y="2108">10</text><text x="1167" y="2222">0</text><text x="1167" y="2336">-10</text><text x="1167" y="2450">-20</text>
</g>
<g class="s" text-anchor="middle">
<text x="1280" y="2140" font-size="21">OPC-OPC</text><text x="1395" y="2140" font-size="21">PBO-OPC</text>
<text x="1280" y="2253" font-size="15">-4.2</text><text x="1396" y="2214" font-size="15">1.5</text>
<text x="1338" y="2324" font-size="22" font-weight="bold">-5.8</text>
<text x="1338" y="2349" font-size="21">(-24.0, 12.5)</text>
</g>
</svg>
</body></html>
